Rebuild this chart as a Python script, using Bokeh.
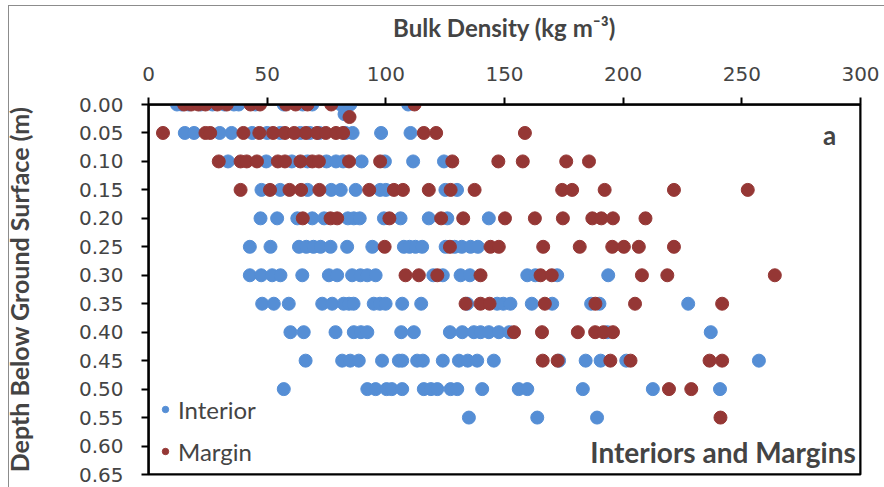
from bokeh.plotting import figure
from bokeh.models import (Range1d, FixedTicker, Legend, LegendItem, Label,
                          NumeralTickFormatter, Span, Arrow)
from bokeh.embed import file_html
from bokeh.resources import INLINE

# ---------------- data ----------------
depths = [0.00, 0.05, 0.10, 0.15, 0.20, 0.25, 0.30, 0.35, 0.40, 0.45, 0.50, 0.55]

interior_density = [
    [12, 14, 17, 22, 27, 32, 36, 38, 45, 57, 65, 69, 81, 85, 109.4],
    [15.3, 19.2, 30, 35, 43.7, 50, 55.5, 64, 68, 72, 83, 86, 98, 110.4],
    [33.5, 49.6, 60.4, 67, 75, 79, 82, 89.8, 99.6, 111.5, 124.5],
    [47.6, 55.5, 67, 77, 81, 87.3, 97.6, 100, 125.1, 130],
    [47.2, 54.2, 62.7, 69, 74, 84, 86.5, 89, 99.2, 106.2, 118.1, 125.9, 143.4],
    [42.7, 51.4, 63.4, 66.5, 69.5, 72.5, 76.7, 83.7, 94.3, 107.6, 110, 112.5,
     115.3, 125.2, 129, 132, 135.7, 138.8],
    [42.7, 47.5, 52.1, 55.6, 64.8, 76, 79.5, 85.8, 89.3, 92.2, 95.7, 120, 124,
     131.5, 135.4, 159.6, 163, 172.2, 193.7],
    [47.9, 52.8, 59.1, 73.2, 77.4, 82.2, 84.5, 86.4, 94.9, 97.5, 99.9, 106.9,
     114.9, 134.3, 146.9, 149.5, 152.5, 161.5, 170.1, 186.5, 190, 227.4],
    [59.8, 65.4, 78.8, 86.5, 89.5, 92.2, 106.5, 111.8, 127, 132.2, 137.1, 139.9,
     143.4, 147.6, 152, 193.3, 236.9],
    [66.2, 81.6, 85, 88.6, 98.4, 105.5, 106.9, 113.2, 115.6, 124, 130.8, 134.5,
     138.5, 145.5, 173, 184.2, 190.5, 201.3, 257.2],
    [57, 92.2, 95.7, 100.3, 102.5, 106.9, 116, 119, 121.7, 127.3, 130.1, 140.6,
     156, 159.6, 183, 212.5, 240.8],
    [135, 163.8, 189],
]

margin_density = [
    [15, 18, 21, 24, 29, 33, 43, 47, 58, 62, 67, 77, 112.1],
    [6.1, 24, 26, 40, 46.7, 52.5, 57.5, 61.4, 66.3, 71, 74.7, 79, 82, 116, 121.2, 158.6],
    [29.6, 38.8, 41.4, 45.7, 54.5, 57.5, 64, 69, 71.8, 84.5, 97.6, 128, 147.4,
     157.7, 176, 185.6],
    [38.8, 51.2, 59.4, 64.3, 72, 93, 103.4, 107.2, 118.1, 127.3, 137.4, 174.3,
     178.5, 192.2, 221.4, 252.5],
    [65, 76.7, 79.5, 101.5, 123.3, 132.6, 150.2, 162.8, 174.6, 187, 190.8, 195.7, 209.4],
    [99.5, 127, 144.1, 147.6, 166.3, 181.7, 195.4, 200.3, 206.6, 221.4],
    [108.3, 113.9, 121.7, 139.9, 165.2, 169.9, 207.9, 218.6, 263.9],
    [133.6, 139.9, 143.7, 167, 188.3, 205, 241.7],
    [154, 165.8, 180.9, 188.2, 191.7, 195.7],
    [166.1, 172.4, 194.6, 203.1, 236.4, 241.7],
    [219.3, 228.7],
    [241],
]

# two points sitting slightly below the 0.00 row
interior_extra_depth = [0.017]
interior_extra_density = [82.6]
margin_extra_depth = [0.022]
margin_extra_density = [84.7]

x_range_limits = [0, 300]
y_range_limits = [0.0, 0.65]
x_ticks = [0, 50, 100, 150, 200, 250, 300]
y_ticks = [0.00, 0.05, 0.10, 0.15, 0.20, 0.25, 0.30, 0.35, 0.40, 0.45, 0.50,
           0.55, 0.60, 0.65]

# ---------------- build flat series ----------------
def flatten(rows, extra_x, extra_y):
    xs, ys = [], []
    for d, row in zip(depths, rows):
        xs.extend(row)
        ys.extend([d] * len(row))
    xs.extend(extra_x)
    ys.extend(extra_y)
    return xs, ys

ix, iy = flatten(interior_density, interior_extra_density, interior_extra_depth)
mx, my = flatten(margin_density, margin_extra_density, margin_extra_depth)

BLUE = "#558ED5"
RED = "#953735"
TICK_FONT = "DejaVu Sans"
TEXT_FONT = "Lato"

W, H = 884, 487
BL, BR, BT, BB = 148, 24, 104, 13
TICK_PX = 7

# thin grey chart-area border (left and top edges) painted behind a
# transparent border fill
border_css = {
    "background-color": "white",
    "background-image": "linear-gradient(#8c8c8c, #8c8c8c), "
                        "linear-gradient(#8c8c8c, #8c8c8c)",
    "background-size": "1px 100%, 100% 1px",
    "background-position": "8px 5px, 8px 5px",
    "background-repeat": "no-repeat",
}

p = figure(width=W, height=H, output_backend="svg", toolbar_location=None,
           x_range=Range1d(x_range_limits[0], x_range_limits[1]),
           y_range=Range1d(y_range_limits[1], y_range_limits[0]),
           x_axis_location="above",
           min_border_left=BL, min_border_right=BR,
           min_border_top=BT, min_border_bottom=BB,
           styles=border_css)

p.xgrid.visible = False
p.ygrid.visible = False
p.outline_line_color = "#000000"
p.outline_line_width = 2
p.background_fill_color = "white"
p.border_fill_alpha = 0

r_int = p.scatter(ix, iy, size=13, color=BLUE, line_color=BLUE)
r_mar = p.scatter(mx, my, size=13, color=RED, line_color=RED)

# frame edges (axis lines at the top / left, plot-area border at right / bottom)
for loc, dim in [(x_range_limits[0], "height"), (x_range_limits[1], "height"),
                 (y_range_limits[0], "width"), (y_range_limits[1], "width")]:
    p.add_layout(Span(location=loc, dimension=dim, line_color="#000000",
                      line_width=2, level="overlay"))

# outward tick marks, one per axis tick value
x_per_px = (x_range_limits[1] - x_range_limits[0]) / (W - BL - BR)
y_per_px = (y_range_limits[1] - y_range_limits[0]) / (H - BT - BB)
for t in x_ticks:
    p.add_layout(Arrow(x_start=t, y_start=y_range_limits[0], x_end=t,
                       y_end=y_range_limits[0] - TICK_PX * y_per_px,
                       start=None, end=None, line_color="#000000",
                       line_width=1.5, level="overlay"))
for t in y_ticks:
    p.add_layout(Arrow(x_start=x_range_limits[0], y_start=t,
                       x_end=x_range_limits[0] - TICK_PX * x_per_px, y_end=t,
                       start=None, end=None, line_color="#000000",
                       line_width=1.5, level="overlay"))

xa = p.xaxis[0]
xa.ticker = FixedTicker(ticks=x_ticks)
xa.minor_tick_line_color = None
xa.major_tick_out = TICK_PX
xa.major_tick_in = 0
xa.axis_line_color = "#000000"
xa.axis_line_width = 2
xa.major_tick_line_color = "#000000"
xa.major_tick_line_width = 2
xa.major_label_text_font = TICK_FONT
xa.major_label_text_font_size = "20px"
xa.major_label_standoff = 17
xa.axis_label = "Bulk Density (kg m\u207b\u00b3)"
xa.axis_label_text_font = TEXT_FONT
xa.axis_label_text_font_style = "bold"
xa.axis_label_text_font_size = "24px"
xa.axis_label_standoff = 22

ya = p.yaxis[0]
ya.ticker = FixedTicker(ticks=y_ticks)
ya.formatter = NumeralTickFormatter(format="0.00")
ya.minor_tick_line_color = None
ya.major_tick_out = TICK_PX
ya.major_tick_in = 0
ya.axis_line_color = "#000000"
ya.axis_line_width = 2
ya.major_tick_line_color = "#000000"
ya.major_tick_line_width = 2
ya.major_label_text_font = TICK_FONT
ya.major_label_text_font_size = "20px"
ya.major_label_standoff = 18
ya.axis_label = "Depth Below Ground Surface (m)"
ya.axis_label_text_font = TEXT_FONT
ya.axis_label_text_font_style = "bold"
ya.axis_label_text_font_size = "25px"
ya.axis_label_standoff = 42

legend = Legend(items=[LegendItem(label="Interior", renderers=[r_int]),
                       LegendItem(label="Margin", renderers=[r_mar])],
                location=(9, 7), border_line_color=None,
                background_fill_alpha=0, label_text_font=TEXT_FONT,
                label_text_font_size="24px", glyph_width=16, glyph_height=32,
                label_height=32, spacing=10, padding=4, label_standoff=5,
                margin=0)
p.add_layout(legend)

p.add_layout(Label(x=287, y=0.054, text="a", text_font=TEXT_FONT,
                   text_font_style="bold", text_font_size="26px",
                   text_align="center", text_baseline="middle"))
p.add_layout(Label(x=298, y=0.61, text="Interiors and Margins",
                   text_font=TEXT_FONT, text_font_style="bold",
                   text_font_size="28px", text_align="right",
                   text_baseline="middle"))

open("out.html", "w").write(file_html(p, INLINE))
